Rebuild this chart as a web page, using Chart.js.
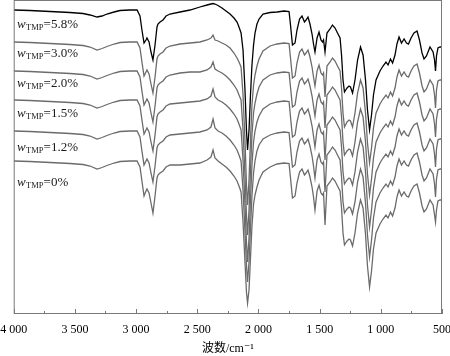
<!DOCTYPE html>
<html>
<head>
<meta charset="utf-8">
<script src="https://cdn.jsdelivr.net/npm/chart.js@4.4.1/dist/chart.umd.min.js"></script>
<style>
html,body{margin:0;padding:0;background:#fff;}
canvas{display:block;}
</style>
</head>
<body>
<canvas id="c" width="450" height="356" style="width:450px;height:356px"></canvas>
<script>
// Wavenumbers (cm-1)
const wavenumbers = [4000,3867,3703,3540,3434,3376,3319,3278,3238,3180,
 3131,3050,2992,2968,2952,2935,2919,2911,2894,2878,
 2862,2845,2829,2821,2804,2780,2755,2723,2641,2559,
 2478,2420,2388,2371,2355,2330,2298,2265,2232,2200,
 2175,2159,2142,2126,2110,2098,2089,2077,2065,2053,
 2040,2028,2012,1995,1963,1905,1848,1791,1750,1738,
 1722,1701,1685,1664,1644,1624,1611,1595,1579,1562,
 1550,1538,1521,1505,1489,1476,1468,1456,1440,1415,
 1395,1374,1354,1333,1321,1309,1297,1276,1260,1248,
 1231,1211,1190,1166,1145,1125,1109,1092,1076,1060,
 1039,1007,982,958,941,921,904,884,868,851,
 831,810,790,774,753,729,704,684,663,647,
 627,598,573,561,553,545,533,516,500];

// Offset transmittance (arbitrary units)
const tmp58 = [294,293.5,292.5,291.5,290.5,289,287,288,290,292,
 293.5,294,294,288,274,261,264,266,262,252,
 244,259,277,280,282,284,288,290,292,294,
 297,299,300,300.5,300,298.5,296,293,290,286,
 282,277,271,254,214,174,154,174,209,239,
 259,271,280,285,290,291.5,292,293,292.5,279,
 259,261,274,285,288,282,284,287,280,270,
 260,252,266,272,264,262,264,252,271,275,
 279,276,271,266,249,224,212,216,218,217,
 211,224,244,257,249,224,194,174,189,209,
 224,233,238,242,239,245,241,249,260,267,
 261,265,261,260,266,271,273,264,251,245,
 248,257,252,244,233,248,256,257,257];

const tmp30 = [262,261.5,260.5,259.5,258.5,257,254,255.5,257.5,260,
 261.5,262,262,256,242,228,232,234,230,220,
 211,227,245,248,250,252,256,258,260,261,
 262,264,266,269,264,263,261,259,256,251,
 246,242,237,209,164,119,99,124,164,199,
 219,229,238,245,253,258,260,261,260.5,246,
 226,228,241,252,255,249,251,254,247,237,
 227,218,233,239,231,229,231,207,238,242,
 246,243,238,233,216,191,177,182,184,183,
 177,191,211,224,216,191,161,141,156,176,
 191,200,205,209,206,212,208,216,227,234,
 228,232,228,227,233,238,240,231,218,212,
 215,224,219,209,196,214,223,224,224];

const tmp20 = [233,232.5,231.5,230.5,229.5,228,225,226.5,228.5,231,
 232.5,233,233,227,213,199,203,205,201,191,
 182,198,216,219,221,223,227,229,231,232,
 232,234,237,242,235,233,231,228,224,219,
 214,209,204,174,129,89,69,94,134,169,
 191,201,210,217,224,229,231,232,231.5,217,
 197,199,212,223,226,220,222,225,218,208,
 198,188,204,210,202,200,202,176,209,213,
 217,214,209,204,187,162,149,153,155,154,
 148,162,182,195,187,162,130,109,125,146,
 162,171,176,180,177,183,179,187,198,205,
 199,203,199,198,204,209,211,202,189,183,
 186,195,190,180,167,185,194,195,195];

const tmp15 = [204,203.5,202.5,201.5,200.5,199,196,197.5,199.5,202,
 203.5,204,204,198,184,170,174,176,172,162,
 153,169,187,190,192,194,198,200,201,202,
 203,205,208,215,207,204,202,199,195,190,
 185,180,174,144,99,62,42,66,104,139,
 162,173,182,188,195,200,202,203,202.5,187,
 167,169,182,193,196,190,192,195,188,178,
 168,157,174,180,172,170,172,144,179,183,
 187,184,179,174,157,132,120,124,126,125,
 119,132,152,165,157,132,99,77,94,116,
 132,141,146,150,147,153,149,157,168,175,
 169,173,169,168,174,179,181,172,159,153,
 156,165,160,150,137,155,164,165,165];

const tmp12 = [173,172.5,171.5,170.5,169.5,168,165,166.5,168.5,171,
 172.5,173,173,167,153,139,143,145,141,131,
 122,138,156,159,161,163,167,169,170,171,
 172,174,177,185,176,173,171,168,164,159,
 154,149,143,114,72,39,22,42,76,108,
 131,143,153,159,165,169,171,172,171.5,157,
 137,139,152,163,166,160,162,165,158,148,
 138,126,144,150,142,140,142,112,149,153,
 157,154,149,144,127,102,91,95,97,96,
 90,102,122,135,127,101,69,47,64,86,
 102,111,116,120,117,123,119,127,138,145,
 139,143,139,138,144,149,151,142,129,123,
 126,135,130,120,107,125,134,135,135];

const tmp00 = [143,142.5,141.5,140.5,139.5,138,135,136.5,138.5,141,
 142.5,143,143,137,123,108,113,115,111,101,
 91,108,126,129,131,133,137,139,139,140,
 141,144,147,154,146,143,140,137,133,128,
 123,118,112,82,42,12,1,14,46,78,
 100,109,117,124,132,137,140,141,140.5,126,
 106,108,121,132,135,129,131,134,127,117,
 107,94,113,119,111,109,111,79,118,122,
 126,123,118,113,96,71,59,63,65,64,
 58,71,91,104,96,70,38,17,33,55,
 71,80,85,89,86,92,88,96,107,114,
 108,112,108,107,113,118,120,111,98,92,
 95,104,99,89,82,94,103,104,104];

const seriesValues = [tmp58, tmp30, tmp20, tmp15, tmp12, tmp00];
const seriesLabels = ['5.8%', '3.0%', '2.0%', '1.5%', '1.2%', '0%'];
const xTickValues = [4000, 3500, 3000, 2500, 2000, 1500, 1000, 500];
const xMinorTicks = [3750, 3250, 2750, 2250, 1750, 1250, 750];

const lineColors = ['#000000', '#6b6b6b', '#6b6b6b', '#6b6b6b', '#6b6b6b', '#6b6b6b'];
const labelBaselines = [28.3, 57.3, 86.7, 116.7, 150.7, 186];

function fmtTick(v) {
  if (v >= 1000) {
    return Math.floor(v / 1000) + ' ' + String(v % 1000).padStart(3, '0');
  }
  return String(v);
}

const datasets = seriesValues.map((vals, k) => ({
  label: seriesLabels[k],
  data: wavenumbers.slice(0, vals.length).map((w, i) => ({x: w, y: vals[i]})),
  borderColor: lineColors[k],
  borderWidth: 1.3,
  pointRadius: 0,
  tension: 0,
  fill: false
}));

const framePlugin = {
  id: 'frame',
  afterDraw(chart) {
    const {ctx, chartArea: a} = chart;
    const xs = chart.scales.x;
    ctx.save();
    ctx.strokeStyle = '#7a7a7a';
    ctx.lineWidth = 1;
    ctx.strokeRect(a.left + 0.5, a.top + 0.5, a.right - a.left - 1, a.bottom - a.top - 1);
    ctx.beginPath();
    xTickValues.forEach(v => {
      const px = Math.round(xs.getPixelForValue(v)) + 0.5;
      ctx.moveTo(px, a.bottom);
      ctx.lineTo(px, a.bottom - 5);
    });
    xMinorTicks.forEach(v => {
      const px = Math.round(xs.getPixelForValue(v)) + 0.5;
      ctx.moveTo(px, a.bottom);
      ctx.lineTo(px, a.bottom - 3);
    });
    ctx.stroke();

    // series labels
    ctx.fillStyle = '#1a1a1a';
    ctx.textBaseline = 'alphabetic';
    seriesLabels.forEach((lab, k) => {
      let x = a.left + 3.2;
      const b = labelBaselines[k];
      ctx.font = 'italic 13px "Liberation Serif"';
      ctx.fillText('w', x, b);
      x += ctx.measureText('w').width + 0.5;
      ctx.font = '8.5px "Liberation Serif"';
      ctx.fillText('TMP', x, b + 2);
      x += ctx.measureText('TMP').width;
      ctx.font = '13px "Liberation Serif"';
      ctx.fillText('=' + lab, x, b);
    });
    ctx.restore();
  }
};

new Chart(document.getElementById('c'), {
  type: 'line',
  data: {datasets},
  options: {
    responsive: false,
    animation: false,
    layout: {padding: {left: 13.7, right: 8, top: 0, bottom: 0}},
    plugins: {legend: {display: false}, tooltip: {enabled: false}},
    scales: {
      x: {
        type: 'linear',
        reverse: true,
        min: 500,
        max: 4000,
        afterBuildTicks(scale) {
          scale.ticks = xTickValues.map(v => ({value: v}));
        },
        afterFit(scale) {
          scale.height = 42;
          scale.paddingLeft = 0;
          scale.paddingRight = 0;
        },
        ticks: {
          autoSkip: false,
          maxRotation: 0,
          padding: 9,
          color: '#000',
          font: {family: '"Liberation Serif"', size: 12},
          callback: v => fmtTick(v)
        },
        grid: {display: false, drawTicks: false},
        border: {display: false},
        title: {
          display: true,
          text: '波数/cm⁻¹',
          color: '#000',
          font: {family: '"Liberation Serif", "DejaVu Serif", "Noto Sans CJK SC"', size: 12},
          padding: {top: 4, bottom: 0}
        }
      },
      y: {display: false, min: -10, max: 304}
    }
  },
  plugins: [framePlugin]
});
</script>
</body>
</html>
